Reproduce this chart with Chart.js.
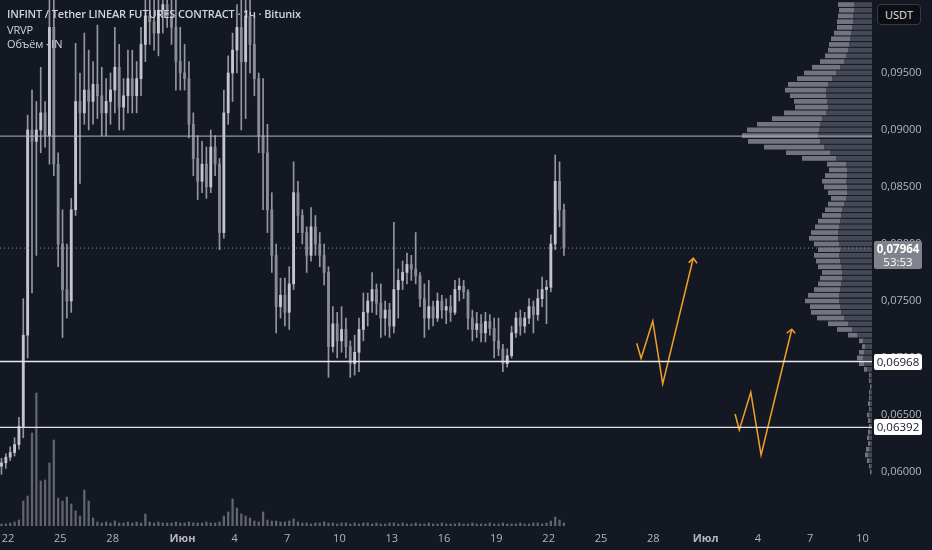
<!DOCTYPE html>
<html>
<head>
<meta charset="utf-8">
<script src="https://cdn.jsdelivr.net/npm/chart.js@4.4.1/dist/chart.umd.min.js"></script>
<style>
  body { margin: 0; background: #141823; font-family: "Open Sans", "Noto Sans", sans-serif; }
  #wrap { position: relative; width: 932px; height: 550px; overflow: hidden; }
  #main { position: absolute; left: 0; top: 0; width: 932px; height: 550px; z-index: 1; }
  #vp { position: absolute; z-index: 0; }
  .legend { position: absolute; left: 7px; z-index: 2; color: #d1d4dc; font-size: 11px; white-space: nowrap; letter-spacing: -0.15px; }
  .usdt { position: absolute; left: 877px; top: 4px; width: 42px; height: 19px; z-index: 2;
          background: #0c0e13; border: 1px solid #363a45; border-radius: 4px; color: #e0e3eb;
          font-size: 11px; line-height: 19px; text-align: center; }
  .tag { position: absolute; left: 874px; width: 48px; z-index: 2; font-size: 11.5px; text-align: center; border-radius: 2px; }
</style>
</head>
<body>
<div id="wrap">
  <div id="vp"><canvas id="vpCanvas"></canvas></div>
  <div id="main"><canvas id="priceChart"></canvas></div>
  <div class="legend" style="top:6px;font-weight:600;">INFINT / Tether LINEAR FUTURES CONTRACT · 1ч · Bitunix</div>
  <div class="legend" style="top:22px;">VRVP</div>
  <div class="legend" style="top:36px;">Объём · IN</div>
  <div class="usdt">USDT</div>
  <div class="tag" id="tagLast" style="background:#80838c;color:#ffffff;height:27px;line-height:13px;padding-top:1px;">
    <div style="font-weight:700;">0,07964</div><div>53:53</div>
  </div>
  <div class="tag" id="tagA" style="background:#ffffff;color:#131722;height:16px;line-height:16px;">0,06968</div>
  <div class="tag" id="tagB" style="background:#ffffff;color:#131722;height:16px;line-height:16px;">0,06392</div>
</div>
<script>
// x axis in days counted from 22 May 00:00
var X_MIN = -0.46, X_MAX = 49.54;
var Y_MIN = 0.05526, Y_MAX = 0.1014;

var tickDays = [0, 3, 6, 10, 13, 16, 19, 22, 25, 28, 31, 34, 37, 40, 43, 46, 49];
var tickLabels = ["22", "25", "28", "Июн", "4", "7", "10", "13", "16", "19", "22", "25", "28", "Июл", "4", "7", "10"];
var priceTicks = [0.060, 0.065, 0.070, 0.075, 0.080, 0.085, 0.090, 0.095];

// 6h candles starting 21 May 12:00
var candleStart = -0.375, candleStep = 0.25;
var opens = [
  0.0605, 0.0608, 0.0613, 0.0617, 0.0624, 0.0640, 0.0720, 0.0900, 0.0890, 0.0900,
  0.0915, 0.0895, 0.0990, 0.0870, 0.0800, 0.0760, 0.0750, 0.0830, 0.0925, 0.0915,
  0.0935, 0.0925, 0.0940, 0.0930, 0.0915, 0.0925, 0.0935, 0.0955, 0.0920, 0.0930,
  0.0945, 0.0930, 0.0945, 0.0975, 0.1000, 0.0995, 0.0985, 0.1005, 0.1010, 0.1000,
  0.0990, 0.0960, 0.0950, 0.0945, 0.0905, 0.0875, 0.0855, 0.0870, 0.0850, 0.0885,
  0.0870, 0.0810, 0.0915, 0.0950, 0.0970, 0.0990, 0.0960, 0.1000, 0.0975, 0.0945,
  0.0895, 0.0880, 0.0830, 0.0790, 0.0745, 0.0755, 0.0740, 0.0765, 0.0845, 0.0825,
  0.0810, 0.0790, 0.0815, 0.0800, 0.0790, 0.0775, 0.0710, 0.0730, 0.0715, 0.0725,
  0.0710, 0.0695, 0.0705, 0.0725, 0.0740, 0.0750, 0.0760, 0.0748, 0.0735, 0.0742,
  0.0728, 0.0760, 0.0768, 0.0775, 0.0782, 0.0778, 0.0772, 0.0752, 0.0735, 0.0745,
  0.0735, 0.0750, 0.0742, 0.0745, 0.0740, 0.0760, 0.0763, 0.0758, 0.0735, 0.0725,
  0.0730, 0.0722, 0.0732, 0.0726, 0.0715, 0.0708, 0.0695, 0.0702, 0.0722, 0.0735,
  0.0728, 0.0735, 0.0745, 0.0738, 0.0752, 0.0760, 0.0762, 0.0800, 0.0855, 0.0830
];
var highs = [
  0.0612, 0.0616, 0.0622, 0.0630, 0.0648, 0.0752, 0.0913, 0.0935, 0.0925, 0.0955,
  0.0925, 0.1030, 0.1020, 0.0880, 0.0830, 0.0800, 0.0840, 0.0976, 0.0950, 0.0985,
  0.0970, 0.0960, 0.0992, 0.0955, 0.0945, 0.0950, 0.0990, 0.0975, 0.0945, 0.0970,
  0.0970, 0.0960, 0.0990, 0.1030, 0.1040, 0.1025, 0.1020, 0.1045, 0.1050, 0.1040,
  0.1020, 0.0990, 0.0975, 0.0960, 0.0915, 0.0895, 0.0890, 0.0885, 0.0900, 0.0895,
  0.0875, 0.0935, 0.0965, 0.0985, 0.1010, 0.1040, 0.1050, 0.1045, 0.1000, 0.0950,
  0.0945, 0.0905, 0.0845, 0.0800, 0.0770, 0.0770, 0.0780, 0.0872, 0.0855, 0.0830,
  0.0815, 0.0832, 0.0825, 0.0810, 0.0800, 0.0780, 0.0745, 0.0740, 0.0745, 0.0735,
  0.0715, 0.0720, 0.0735, 0.0757, 0.0757, 0.0775, 0.0765, 0.0765, 0.0750, 0.0748,
  0.0819, 0.0778, 0.0785, 0.0792, 0.0790, 0.0810, 0.0775, 0.0765, 0.0768, 0.0750,
  0.0757, 0.0755, 0.0752, 0.0755, 0.0768, 0.0770, 0.0768, 0.0760, 0.0742, 0.0740,
  0.0738, 0.0740, 0.0738, 0.0735, 0.0735, 0.0712, 0.0708, 0.0728, 0.0740, 0.0742,
  0.0740, 0.0752, 0.0750, 0.0760, 0.0771, 0.0768, 0.0808, 0.0878, 0.0872, 0.0835
];
var lows = [
  0.0598, 0.0603, 0.0610, 0.0614, 0.0620, 0.0630, 0.0700, 0.0757, 0.0790, 0.0880,
  0.0885, 0.0870, 0.0860, 0.0780, 0.0718, 0.0735, 0.0740, 0.0825, 0.0853, 0.0905,
  0.0900, 0.0905, 0.0910, 0.0895, 0.0895, 0.0905, 0.0915, 0.0900, 0.0900, 0.0915,
  0.0915, 0.0915, 0.0930, 0.0960, 0.0975, 0.0970, 0.0965, 0.0985, 0.0990, 0.0975,
  0.0935, 0.0935, 0.0935, 0.0893, 0.0860, 0.0839, 0.0845, 0.0840, 0.0845, 0.0860,
  0.0795, 0.0805, 0.0905, 0.0925, 0.0950, 0.0900, 0.0910, 0.0950, 0.0930, 0.0880,
  0.0830, 0.0810, 0.0775, 0.0722, 0.0735, 0.0728, 0.0725, 0.0760, 0.0810, 0.0800,
  0.0775, 0.0785, 0.0790, 0.0780, 0.0764, 0.0683, 0.0705, 0.0700, 0.0705, 0.0700,
  0.0683, 0.0685, 0.0688, 0.0715, 0.0728, 0.0740, 0.0738, 0.0718, 0.0720, 0.0718,
  0.0722, 0.0735, 0.0760, 0.0765, 0.0768, 0.0765, 0.0745, 0.0718, 0.0725, 0.0728,
  0.0732, 0.0735, 0.0730, 0.0732, 0.0738, 0.0750, 0.0752, 0.0725, 0.0715, 0.0718,
  0.0714, 0.0714, 0.0720, 0.0700, 0.0702, 0.0688, 0.0692, 0.0700, 0.0718, 0.0720,
  0.0722, 0.0730, 0.0722, 0.0733, 0.0745, 0.0730, 0.0758, 0.0795, 0.0815, 0.0790
];
var closes = [
  0.0608, 0.0613, 0.0617, 0.0624, 0.0640, 0.0720, 0.0900, 0.0890, 0.0900, 0.0915,
  0.0895, 0.0990, 0.0870, 0.0800, 0.0760, 0.0750, 0.0830, 0.0925, 0.0915, 0.0935,
  0.0925, 0.0940, 0.0930, 0.0915, 0.0925, 0.0935, 0.0955, 0.0920, 0.0930, 0.0945,
  0.0930, 0.0945, 0.0975, 0.1000, 0.0995, 0.0985, 0.1005, 0.1010, 0.1000, 0.0990,
  0.0960, 0.0950, 0.0945, 0.0905, 0.0875, 0.0855, 0.0870, 0.0850, 0.0885, 0.0870,
  0.0810, 0.0915, 0.0950, 0.0970, 0.0990, 0.0960, 0.1000, 0.0975, 0.0945, 0.0895,
  0.0880, 0.0830, 0.0790, 0.0745, 0.0755, 0.0740, 0.0765, 0.0845, 0.0825, 0.0810,
  0.0790, 0.0815, 0.0800, 0.0790, 0.0775, 0.0710, 0.0730, 0.0715, 0.0725, 0.0710,
  0.0695, 0.0705, 0.0725, 0.0740, 0.0750, 0.0760, 0.0748, 0.0735, 0.0742, 0.0728,
  0.0760, 0.0768, 0.0775, 0.0782, 0.0778, 0.0772, 0.0752, 0.0735, 0.0745, 0.0735,
  0.0750, 0.0742, 0.0745, 0.0740, 0.0760, 0.0763, 0.0758, 0.0735, 0.0725, 0.0730,
  0.0722, 0.0732, 0.0726, 0.0715, 0.0708, 0.0695, 0.0702, 0.0722, 0.0735, 0.0728,
  0.0735, 0.0745, 0.0738, 0.0752, 0.0760, 0.0762, 0.0800, 0.0855, 0.0830, 0.07964
];
var volumes = [
  2, 2, 3, 4, 6, 25, 30, 93, 133, 45,
  46, 63, 86, 28, 25, 29, 22, 15, 10, 36,
  25, 8, 4, 3, 4, 3, 5, 3, 3, 4,
  3, 4, 3, 12, 4, 3, 4, 3, 3, 3,
  4, 3, 3, 4, 3, 3, 3, 4, 3, 3,
  4, 10, 14, 27, 18, 12, 10, 8, 5, 4,
  14, 6, 5, 5, 4, 4, 5, 7, 4, 3,
  3, 2, 3, 3, 4, 3, 3, 2, 3, 3,
  2, 3, 2, 3, 3, 2, 3, 2, 2, 3,
  3, 2, 3, 2, 2, 3, 2, 2, 3, 2,
  2, 3, 2, 2, 2, 3, 2, 2, 3, 2,
  2, 2, 3, 2, 2, 3, 2, 2, 2, 3,
  2, 2, 3, 3, 2, 3, 5, 9, 6, 3
];
var VOL_AXIS_MAX = 526;

// horizontal levels and the last price
var levelPrices = [0.08946, 0.06968, 0.06392];
var levelColors = ["#b2b5be", "#e8e9ed", "#e0e1e6"];
var levelWidths = [1, 1.5, 1.2];
var lastPrice = 0.07964;

// drawn zigzag arrows (days, price)
var arrow1Days = [36.05, 36.30, 36.97, 37.54, 39.29];
var arrow1Prices = [0.07129, 0.06997, 0.07325, 0.06772, 0.07875];
var arrow1HeadDays = [39.03, 39.29, 39.51];
var arrow1HeadPrices = [0.07836, 0.07875, 0.07831];
var arrow2Days = [41.69, 41.93, 42.59, 43.18, 44.94];
var arrow2Prices = [0.06509, 0.06368, 0.06699, 0.06149, 0.07252];
var arrow2HeadDays = [44.65, 44.94, 45.13];
var arrow2HeadPrices = [0.07217, 0.07252, 0.07217];

// visible range volume profile rows
var profilePrices = [
  0.1010, 0.1005, 0.1000, 0.0995, 0.0990, 0.0985, 0.0980, 0.0975, 0.0970, 0.0965,
  0.0960, 0.0955, 0.0950, 0.0945, 0.0940, 0.0935, 0.0930, 0.0925, 0.0920, 0.0915,
  0.0910, 0.0905, 0.0900, 0.0895, 0.0890, 0.0885, 0.0880, 0.0875, 0.0870, 0.0865,
  0.0860, 0.0855, 0.0850, 0.0845, 0.0840, 0.0835, 0.0830, 0.0825, 0.0820, 0.0815,
  0.0810, 0.0805, 0.0800, 0.0795, 0.0790, 0.0785, 0.0780, 0.0775, 0.0770, 0.0765,
  0.0760, 0.0755, 0.0750, 0.0745, 0.0740, 0.0735, 0.0730, 0.0725, 0.0720, 0.0715,
  0.0710, 0.0705, 0.0700, 0.0695, 0.0690, 0.0685, 0.0680, 0.0675, 0.0670, 0.0665,
  0.0660, 0.0655, 0.0650, 0.0645, 0.0640, 0.0635, 0.0630, 0.0625, 0.0620, 0.0615,
  0.0610, 0.0605, 0.0600
];
var profileDown = [
  18, 18, 19, 19, 20, 21, 22, 23, 24, 26,
  28, 32, 36, 40, 44, 46, 46, 45, 44, 46,
  50, 52, 53, 54, 52, 48, 42, 36, 26, 25,
  25, 26, 25, 25, 26, 28, 30, 31, 32, 33,
  34, 34, 33, 32, 33, 32, 31, 30, 30, 31,
  32, 33, 33, 32, 31, 28, 24, 20, 15, 9,
  7, 8, 9, 8, 5, 2, 2, 1, 2, 2,
  2, 2, 3, 2, 2, 2, 3, 2, 3, 4,
  3, 2, 1
];
var profileUp = [
  16, 15, 15, 16, 15, 17, 19, 20, 20, 21,
  24, 28, 32, 35, 40, 41, 36, 33, 33, 42,
  50, 63, 72, 76, 72, 60, 44, 34, 19, 18,
  22, 24, 23, 19, 15, 16, 17, 19, 22, 24,
  27, 29, 25, 22, 25, 24, 23, 20, 22, 23,
  26, 31, 34, 30, 30, 27, 20, 15, 9, 4,
  3, 5, 6, 5, 3, 1, 1, 1, 1, 1,
  2, 1, 2, 2, 1, 2, 2, 2, 3, 3,
  2, 1, 1
];
var VP_WIDTH = 140;

var TEXT = "#b2b5be";
var FONT = "'Open Sans', 'Noto Sans', sans-serif";

var times = opens.map(function (_, i) { return candleStart + i * candleStep; });

function pts(xs, ys) {
    return xs.map(function (x, i) { return { x: x, y: ys[i] }; });
}

function lineSet(data, color, width, dash) {
    return {
        type: 'line', data: data, borderColor: color, borderWidth: width,
        borderDash: dash || [], pointRadius: 0, fill: false, tension: 0, order: 1
    };
}

function noPad(axis) {
    axis.paddingTop = 0; axis.paddingBottom = 0;
    axis.paddingLeft = 0; axis.paddingRight = 0;
}

var datasets = [];

datasets.push({
    type: 'bar', label: 'volume', yAxisID: 'yv', grouped: false, order: 6,
    data: times.map(function (t, i) { return { x: t, y: volumes[i] }; }),
    backgroundColor: 'rgba(150,153,162,0.6)', barThickness: 1.6
});
datasets.push({
    type: 'bar', label: 'wicks', grouped: false, order: 4,
    data: times.map(function (t, i) { return { x: t, y: [lows[i], highs[i]] }; }),
    backgroundColor: 'rgba(170,173,182,0.85)', barThickness: 1
});
datasets.push({
    type: 'bar', label: 'bodies', grouped: false, order: 3,
    data: times.map(function (t, i) { return { x: t, y: [opens[i], closes[i]] }; }),
    backgroundColor: function (ctx) {
        var i = ctx.dataIndex;
        return closes[i] >= opens[i] ? '#c4c6cc' : '#8a8d96';
    },
    barThickness: 2.2
});

levelPrices.forEach(function (p, k) {
    datasets.push(lineSet([{ x: X_MIN, y: p }, { x: X_MAX, y: p }], levelColors[k], levelWidths[k]));
});
datasets.push(lineSet([{ x: X_MIN, y: lastPrice }, { x: X_MAX, y: lastPrice }], '#8b8e97', 1, [1, 3]));

var ORANGE = '#f0a028';
datasets.push(lineSet(pts(arrow1Days, arrow1Prices), ORANGE, 1.5));
datasets.push(lineSet(pts(arrow1HeadDays, arrow1HeadPrices), ORANGE, 1.5));
datasets.push(lineSet(pts(arrow2Days, arrow2Prices), ORANGE, 1.5));
datasets.push(lineSet(pts(arrow2HeadDays, arrow2HeadPrices), ORANGE, 1.5));

var ctx = document.getElementById('priceChart').getContext('2d');
var chart = new Chart(ctx, {
    type: 'bar',
    data: { datasets: datasets },
    options: {
        responsive: true,
        maintainAspectRatio: false,
        animation: false,
        layout: { padding: 0, autoPadding: false },
        plugins: { legend: { display: false }, tooltip: { enabled: false } },
        scales: {
            x: {
                type: 'linear', min: X_MIN, max: X_MAX, offset: false,
                grid: { display: false, drawTicks: false }, border: { display: false },
                afterBuildTicks: function (axis) {
                    axis.ticks = tickDays.map(function (v) { return { value: v }; });
                },
                afterFit: function (axis) { axis.height = 24; noPad(axis); },
                ticks: {
                    autoSkip: false, maxRotation: 0, padding: 6, color: TEXT,
                    font: function (c) {
                        var lbl = tickLabels[c.index];
                        return { family: FONT, size: 11, weight: (lbl === 'Июн' || lbl === 'Июл') ? 'bold' : 'normal' };
                    },
                    callback: function (v, i) { return tickLabels[i]; }
                }
            },
            y: {
                type: 'linear', position: 'right', min: Y_MIN, max: Y_MAX,
                grid: { display: false, drawTicks: false }, border: { display: false },
                afterBuildTicks: function (axis) {
                    axis.ticks = priceTicks.map(function (v) { return { value: v }; });
                },
                afterFit: function (axis) { axis.width = 60; noPad(axis); },
                ticks: {
                    padding: 9, color: TEXT, font: { family: FONT, size: 11 },
                    callback: function (v) { return v.toFixed(5).replace('.', ','); }
                }
            },
            yv: {
                type: 'linear', display: false, min: 0, max: VOL_AXIS_MAX
            }
        }
    }
});

// place the volume profile behind the price chart, aligned to its plot area
var area = chart.chartArea;
var vp = document.getElementById('vp');
vp.style.left = (area.right - VP_WIDTH) + 'px';
vp.style.top = area.top + 'px';
vp.style.width = VP_WIDTH + 'px';
vp.style.height = (area.bottom - area.top) + 'px';

new Chart(document.getElementById('vpCanvas').getContext('2d'), {
    type: 'bar',
    data: {
        datasets: [{
            label: 'down', data: pts(profileDown, profilePrices),
            backgroundColor: '#454955', barPercentage: 0.82, categoryPercentage: 1
        }, {
            label: 'up', data: pts(profileUp, profilePrices),
            backgroundColor: '#72757f', barPercentage: 0.82, categoryPercentage: 1
        }]
    },
    options: {
        indexAxis: 'y',
        responsive: true,
        maintainAspectRatio: false,
        animation: false,
        layout: { padding: 0, autoPadding: false },
        plugins: { legend: { display: false }, tooltip: { enabled: false } },
        scales: {
            x: { type: 'linear', display: false, reverse: true, min: 0, max: VP_WIDTH, stacked: true },
            y: { type: 'linear', display: false, min: Y_MIN, max: Y_MAX, offset: false, stacked: true }
        }
    }
});

// price tags on the axis
var ys = chart.scales.y;
document.getElementById('tagLast').style.top = (ys.getPixelForValue(lastPrice) - 7) + 'px';
document.getElementById('tagA').style.top = (ys.getPixelForValue(levelPrices[1]) - 8) + 'px';
document.getElementById('tagB').style.top = (ys.getPixelForValue(levelPrices[2]) - 8) + 'px';
</script>
</body>
</html>
